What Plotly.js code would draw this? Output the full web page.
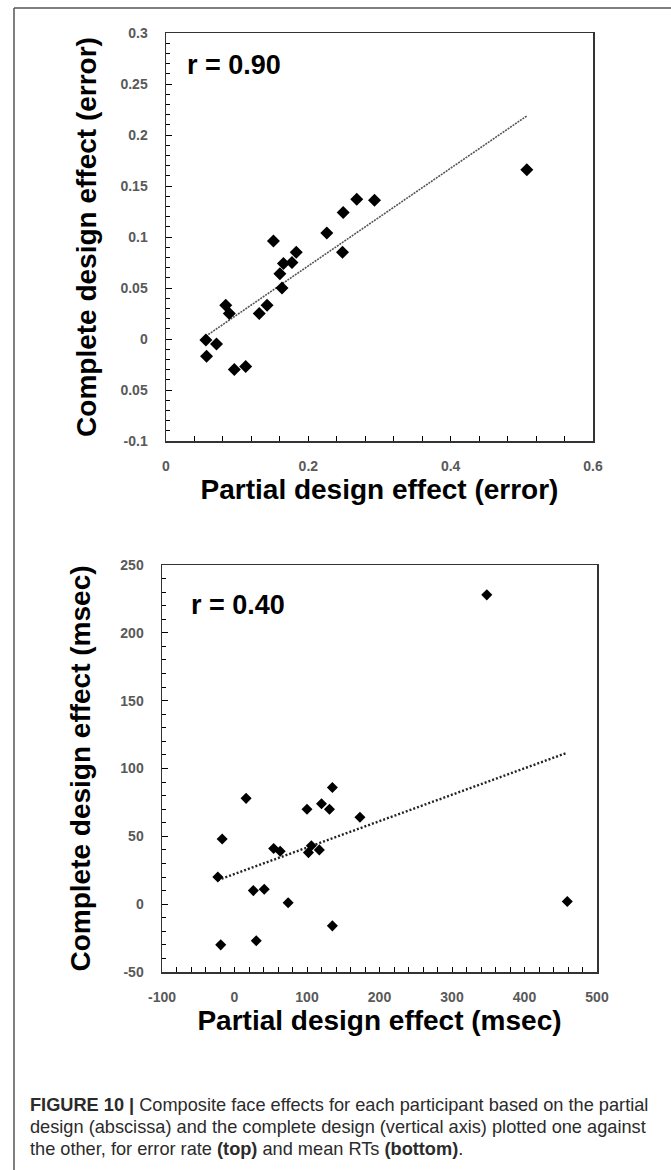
<!DOCTYPE html>
<html>
<head>
<meta charset="utf-8">
<script src="https://cdn.plot.ly/plotly-3.0.1.min.js"></script>
<style>
html,body{margin:0;padding:0;background:#ffffff;}
#chart{width:671px;height:1170px;}
</style>
</head>
<body>
<div id="chart"></div>
<script>
// ---------- Data: top panel (error rate) ----------
const errPartial  = [0.249, 0.226, 0.248, 0.151, 0.183, 0.177, 0.165, 0.160, 0.163, 0.084, 0.089,
                     0.142, 0.131, 0.056, 0.071, 0.057, 0.096, 0.112, 0.268, 0.293, 0.507];
const errComplete = [0.124, 0.104, 0.085, 0.096, 0.085, 0.075, 0.074, 0.064, 0.050, 0.033, 0.025,
                     0.033, 0.025, -0.001, -0.005, -0.017, -0.030, -0.027, 0.137, 0.136, 0.166];

// ---------- Data: bottom panel (mean RTs, msec) ----------
const rtPartial  = [16, -17, -23, -19, 30, 26, 41, 74, 54, 63, 100,
                    102, 106, 117, 120, 131, 135, 135, 173, 348, 459];
const rtComplete = [78, 48, 20, -30, -27, 10, 11, 1, 41, 39, 70,
                    38, 43, 40, 74, 70, 86, -16, 64, 228, 2];

// ---------- Tick labels ----------
const errYTickVals = [-0.1, -0.05, 0, 0.05, 0.1, 0.15, 0.2, 0.25, 0.3];
const errYTickText = ['-0.1', '0.05', '0', '0.05', '0.1', '0.15', '0.2', '0.25', '0.3'];
const errXTickVals = [0, 0.2, 0.4, 0.6];
const errXTickText = ['0', '0.2', '0.4', '0.6'];
const rtYTickVals  = [-50, 0, 50, 100, 150, 200, 250];
const rtYTickText  = ['-50', '0', '50', '100', '150', '200', '250'];
const rtXTickVals  = [-100, 0, 100, 200, 300, 400, 500];
const rtXTickText  = ['-100', '0', '100', '200', '300', '400', '500'];

// ---------- Texts ----------
const corrLabels = ['r = 0.90', 'r = 0.40'];
const xTitles = ['Partial design effect (error)', 'Partial design effect (msec)'];
const yTitles = ['Complete design effect (error)', 'Complete design effect (msec)'];
const captionLines = [
  '<b>FIGURE 10 |</b> Composite face effects for each participant based on the partial',
  'design (abscissa) and the complete design (vertical axis) plotted one against',
  'the other, for error rate <b>(top)</b> and mean RTs <b>(bottom)</b>.'
];

// least-squares linear trend between min and max x
function trend(xs, ys) {
  const n = xs.length;
  const mx = xs.reduce((a, b) => a + b, 0) / n;
  const my = ys.reduce((a, b) => a + b, 0) / n;
  let sxy = 0, sxx = 0;
  for (let i = 0; i < n; i++) { sxy += (xs[i] - mx) * (ys[i] - my); sxx += (xs[i] - mx) * (xs[i] - mx); }
  const b = sxy / sxx, a = my - b * mx;
  const x0 = Math.min(...xs), x1 = Math.max(...xs);
  return { x: [x0, x1], y: [a + b * x0, a + b * x1] };
}

const W = 671, H = 1170;
const FONT = '"Liberation Sans", Arial, Helvetica, sans-serif';
const tickFont = { family: FONT, size: 14, color: '#595959', weight: 'bold' };
const titleFont = { family: FONT, size: 28, color: '#000000', weight: 'bold' };

const tErr = trend(errPartial, errComplete);
const tRt = trend(rtPartial, rtComplete);

const traces = [
  { x: tErr.x, y: tErr.y, xaxis: 'x', yaxis: 'y', mode: 'lines', type: 'scatter',
    line: { color: '#555555', width: 1.6, dash: '2px,1px' }, hoverinfo: 'skip' },
  { x: errPartial, y: errComplete, xaxis: 'x', yaxis: 'y', mode: 'markers', type: 'scatter',
    marker: { symbol: 'diamond', size: 10, color: '#000000', line: { width: 0 } } },
  { x: tRt.x, y: tRt.y, xaxis: 'x2', yaxis: 'y2', mode: 'lines', type: 'scatter',
    line: { color: '#222222', width: 2.4, dash: '2px,2px' }, hoverinfo: 'skip' },
  { x: rtPartial, y: rtComplete, xaxis: 'x2', yaxis: 'y2', mode: 'markers', type: 'scatter',
    marker: { symbol: 'diamond', size: 8.5, color: '#000000', line: { width: 0 } } }
];

function axisBase() {
  return {
    showline: true, linecolor: '#333333', linewidth: 1.5, mirror: true,
    showgrid: false, zeroline: false, ticks: 'inside', tickcolor: '#000000', tickwidth: 1,
    tickfont: tickFont, tickmode: 'array', fixedrange: true
  };
}

const layout = {
  width: W, height: H,
  margin: { l: 0, r: 0, t: 0, b: 0, pad: 0 },
  paper_bgcolor: '#ffffff', plot_bgcolor: '#ffffff',
  showlegend: false,
  xaxis: Object.assign(axisBase(), {
    domain: [166 / W, 593 / W], anchor: 'y', range: [0, 0.6],
    tickvals: errXTickVals, ticktext: errXTickText, ticklen: 5, ticklabelstandoff: 12,
    minor: { tickmode: 'linear', tick0: 0, dtick: 0.04, ticks: 'inside', ticklen: 5, tickcolor: '#000000', tickwidth: 1 },
    title: { text: xTitles[0], font: titleFont, standoff: 4 }
  }),
  yaxis: Object.assign(axisBase(), {
    domain: [1 - 441 / H, 1 - 33 / H], anchor: 'x', range: [-0.1, 0.3],
    tickvals: errYTickVals, ticktext: errYTickText, ticklen: 6, ticklabelstandoff: 14,
    minor: { tickmode: 'linear', tick0: 0, dtick: 0.01, ticks: 'inside', ticklen: 4, tickcolor: '#000000', tickwidth: 1 },
    title: { text: yTitles[0], font: titleFont, standoff: 15 }
  }),
  xaxis2: Object.assign(axisBase(), {
    domain: [162 / W, 597 / W], anchor: 'y2', range: [-100, 500],
    tickvals: rtXTickVals, ticktext: rtXTickText, ticklen: 5, ticklabelstandoff: 12,
    minor: { tickmode: 'linear', tick0: 0, dtick: 20, ticks: 'inside', ticklen: 5, tickcolor: '#000000', tickwidth: 1 },
    title: { text: xTitles[1], font: titleFont, standoff: 2 }
  }),
  yaxis2: Object.assign(axisBase(), {
    domain: [1 - 972 / H, 1 - 565 / H], anchor: 'x2', range: [-50, 250],
    tickvals: rtYTickVals, ticktext: rtYTickText, ticklen: 6, ticklabelstandoff: 14,
    minor: { tickmode: 'linear', tick0: 0, dtick: 10, ticks: 'inside', ticklen: 4, tickcolor: '#000000', tickwidth: 1 },
    title: { text: yTitles[1], font: titleFont, standoff: 21 }
  }),
  annotations: [
    { text: corrLabels[0], xref: 'x domain', yref: 'y domain', x: 0.045, y: 0.922,
      xanchor: 'left', yanchor: 'middle', showarrow: false,
      font: { family: FONT, size: 27, color: '#000000', weight: 'bold' } },
    { text: corrLabels[1], xref: 'x2 domain', yref: 'y2 domain', x: 0.062, y: 0.902,
      xanchor: 'left', yanchor: 'middle', showarrow: false,
      font: { family: FONT, size: 27, color: '#000000', weight: 'bold' } }
  ].concat(captionLines.map((t, i) => ({
    text: t, xref: 'paper', yref: 'paper', x: 28 / W, y: 1 - (1105 + 22 * i) / H,
    xanchor: 'left', yanchor: 'middle', align: 'left', showarrow: false,
    font: { family: FONT, size: 18.2, color: '#2b2b2b' }
  }))),
  shapes: [
    { type: 'line', xref: 'paper', yref: 'paper', x0: 14 / W, x1: 1, y0: 1 - 8 / H, y1: 1 - 8 / H,
      line: { color: '#555555', width: 1.5 } },
    { type: 'line', xref: 'paper', yref: 'paper', x0: 14 / W, x1: 14 / W, y0: 0, y1: 1 - 8 / H,
      line: { color: '#555555', width: 1.5 } }
  ]
};

Plotly.newPlot('chart', traces, layout, { staticPlot: true, displayModeBar: false });
</script>
</body>
</html>
